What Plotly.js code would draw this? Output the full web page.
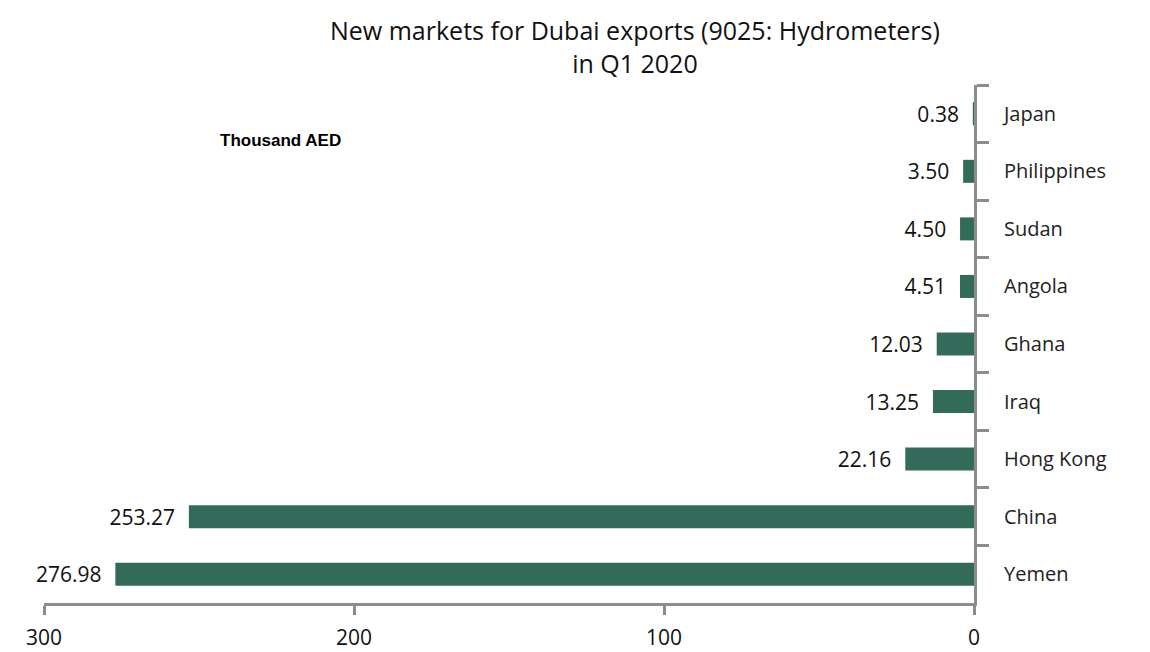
<!DOCTYPE html>
<html>
<head>
<meta charset="utf-8">
<script src="https://cdn.plot.ly/plotly-3.0.1.min.js"></script>
<style>html,body{margin:0;padding:0;background:#fff;}#chart{width:1150px;height:652px;}</style>
</head>
<body>
<div id="chart"></div>
<script>
const countries = ["Japan", "Philippines", "Sudan", "Angola", "Ghana", "Iraq", "Hong Kong", "China", "Yemen"];
const values = [0.38, 3.50, 4.50, 4.51, 12.03, 13.25, 22.16, 253.27, 276.98];
const xTicks = [300, 200, 100, 0];
const unitLabel = "Thousand AED";
const titleText = "New markets for Dubai exports (9025: Hydrometers)<br>in Q1 2020";

const font = "'Open Sans', 'Noto Sans', sans-serif";

Plotly.newPlot("chart", [{
  type: "bar",
  orientation: "h",
  x: values,
  y: countries,
  width: 0.4,
  marker: {color: "#336b5a"},
  text: values.map(v => v.toFixed(2) + "\u00a0\u00a0"),
  textposition: "outside",
  constraintext: "none",
  textfont: {family: font, size: 21, color: "#111"},
  cliponaxis: false,
  hoverinfo: "x+y"
}], {
  width: 1150, height: 652,
  margin: {l: 44, r: 176, t: 85, b: 49},
  paper_bgcolor: "#fff", plot_bgcolor: "#fff",
  showlegend: false,
  xaxis: {
    range: [300, 0], tickvals: xTicks, ticktext: xTicks.map(String),
    showgrid: false, zeroline: false, showline: true, linecolor: "#8c8c8c", linewidth: 3,
    ticks: "outside", ticklen: 9, tickwidth: 3, tickcolor: "#8c8c8c",
    tickfont: {family: font, size: 21, color: "#111"}, ticklabelstandoff: 5
  },
  yaxis: {
    type: "category", categoryorder: "array", categoryarray: countries,
    range: [8.5, -0.5], side: "right",
    showgrid: false, zeroline: false, showline: true, linecolor: "#8c8c8c", linewidth: 3,
    ticks: "outside", tickson: "boundaries", ticklen: 12, tickwidth: 3, tickcolor: "#8c8c8c",
    tickfont: {family: font, size: 20, color: "#222"}, ticklabelstandoff: 23
  },
  annotations: [{
    text: titleText, xref: "paper", yref: "paper",
    x: 0.636, y: 1.0 + (85 - 47) / 518, xanchor: "center", yanchor: "middle", showarrow: false,
    font: {family: font, size: 25, color: "#111"}
  }, {
    text: "<b>" + unitLabel + "</b>", xref: "paper", yref: "paper",
    x: 0.254, y: 0.893, xanchor: "center", yanchor: "middle", showarrow: false,
    font: {family: "'Liberation Sans', sans-serif", size: 17, color: "#000"}
  }]
}, {displayModeBar: false, staticPlot: true});
</script>
</body>
</html>
